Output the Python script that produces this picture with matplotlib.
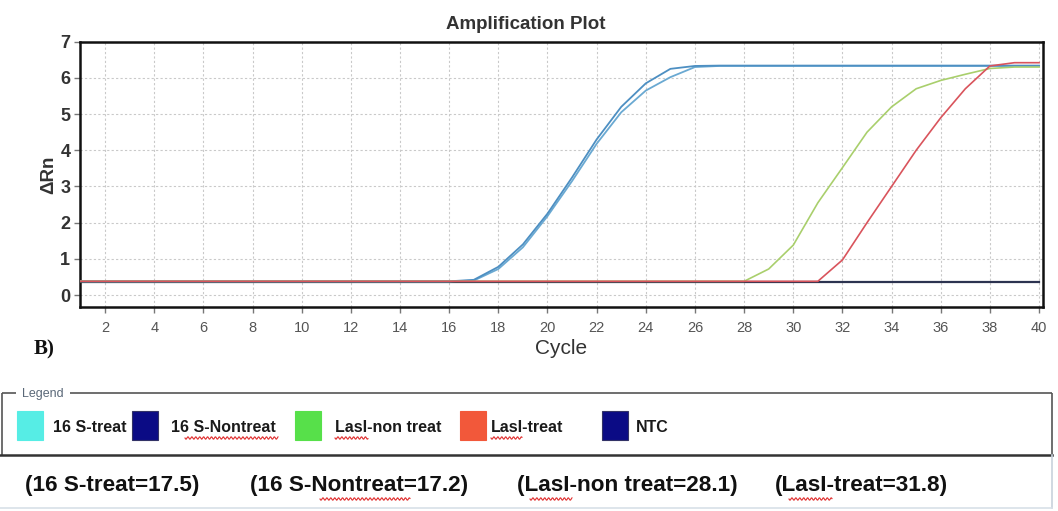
import numpy as np
import matplotlib
matplotlib.use("Agg")
import matplotlib.pyplot as plt
from matplotlib.patches import Rectangle

plt.rcParams['font.family'] = ['Liberation Sans', 'DejaVu Sans']

# ---- data -------------------------------------------------------------
cycles = list(range(1, 41))

s16_treat = [0.38, 0.38, 0.38, 0.38, 0.38, 0.38, 0.38, 0.38, 0.38, 0.38,
             0.38, 0.38, 0.38, 0.38, 0.38, 0.38, 0.40, 0.72, 1.32, 2.18,
             3.15, 4.18, 5.05, 5.65, 6.02, 6.30, 6.33, 6.33, 6.33, 6.33,
             6.33, 6.33, 6.33, 6.33, 6.33, 6.33, 6.33, 6.33, 6.33, 6.33]

s16_nontreat = [0.38, 0.38, 0.38, 0.38, 0.38, 0.38, 0.38, 0.38, 0.38, 0.38,
                0.38, 0.38, 0.38, 0.38, 0.38, 0.38, 0.42, 0.78, 1.40, 2.25,
                3.25, 4.30, 5.20, 5.85, 6.25, 6.33, 6.34, 6.34, 6.34, 6.34,
                6.34, 6.34, 6.34, 6.34, 6.34, 6.34, 6.34, 6.34, 6.34, 6.34]

lasi_nontreat = [0.38, 0.38, 0.38, 0.38, 0.38, 0.38, 0.38, 0.38, 0.38, 0.38,
                 0.38, 0.38, 0.38, 0.38, 0.38, 0.38, 0.38, 0.38, 0.38, 0.38,
                 0.38, 0.38, 0.38, 0.38, 0.38, 0.38, 0.38, 0.38, 0.72, 1.38,
                 2.55, 3.52, 4.50, 5.20, 5.70, 5.93, 6.10, 6.26, 6.30, 6.30]

lasi_treat = [0.38, 0.38, 0.38, 0.38, 0.38, 0.38, 0.38, 0.38, 0.38, 0.38,
              0.38, 0.38, 0.38, 0.38, 0.38, 0.38, 0.38, 0.38, 0.38, 0.38,
              0.38, 0.38, 0.38, 0.38, 0.38, 0.38, 0.38, 0.38, 0.38, 0.38,
              0.38, 0.97, 2.00, 3.00, 4.00, 4.90, 5.70, 6.33, 6.42, 6.42]

ntc = [0.37, 0.37, 0.37, 0.37, 0.37, 0.37, 0.37, 0.37, 0.37, 0.37,
       0.37, 0.37, 0.37, 0.37, 0.37, 0.37, 0.37, 0.37, 0.37, 0.37,
       0.37, 0.37, 0.37, 0.37, 0.37, 0.37, 0.37, 0.37, 0.37, 0.37,
       0.37, 0.37, 0.37, 0.37, 0.37, 0.37, 0.37, 0.37, 0.37, 0.37]

legend_labels = ["16 S-treat", "16 S-Nontreat", "LasI-non treat", "LasI-treat", "NTC"]
ct_labels = ["16 S-treat", "16 S-Nontreat", "LasI-non treat", "LasI-treat"]
ct_values = [17.5, 17.2, 28.1, 31.8]

x_ticks = list(range(2, 41, 2))
y_ticks = list(range(0, 8))

# ---- figure -----------------------------------------------------------
W, H = 1058, 511
fig = plt.figure(figsize=(W / 100, H / 100), dpi=100, facecolor="white")

# pixel-space overlay for the annotation panel
ov = fig.add_axes([0, 0, 1, 1])
ov.set_xlim(0, W)
ov.set_ylim(H, 0)
ov.axis("off")

ax = fig.add_axes([80 / W, 1 - 307 / H, (1043 - 80) / W, (307 - 41.7) / H])
ax.set_xlim(0.98, 40.16)
ax.set_ylim(-0.33, 7.0)

ax.plot(cycles, ntc, color="#2c3350", lw=1.6, zorder=2)
ax.plot(cycles, s16_treat, color="#6aa9d2", lw=1.3, zorder=3)
ax.plot(cycles, s16_nontreat, color="#4d8fc2", lw=1.3, zorder=3)
ax.plot(cycles, lasi_nontreat, color="#a9cf6c", lw=1.2, zorder=4)
ax.plot(cycles, lasi_treat, color="#d9545c", lw=1.2, zorder=5)

ax.set_xticks(x_ticks)
ax.set_yticks(y_ticks)
ax.grid(True, color="#c9c9c9", linestyle=(0, (2, 2)), linewidth=0.8)
ax.set_axisbelow(True)
for s in ax.spines.values():
    s.set_linewidth(1.8)
    s.set_color("#111111")
ax.tick_params(axis="x", length=4, width=1, color="#777777", labelsize=10.5,
               labelcolor="#555555", pad=6)
ax.tick_params(axis="y", length=4, width=1, color="#777777", labelsize=13,
               labelcolor="#333333", pad=3)
for lab in ax.get_yticklabels():
    lab.set_fontweight("bold")

ax.set_title("Amplification Plot", fontsize=13.5, fontweight="bold",
             color="#333333", x=(526 - 80) / (1043 - 80), pad=9)
ax.set_xlabel("Cycle", fontsize=15, color="#333333", labelpad=3)
ax.set_ylabel("\u0394Rn", fontsize=13.5, fontweight="bold", color="#333333",
              labelpad=2)

ov.text(44, 349, "B)", fontsize=15, fontweight="bold", family="Liberation Serif",
        ha="center", va="center", color="#111111")

# ---- legend panel ------------------------------------------------------
frame = dict(color="#555555", lw=1.2, solid_capstyle="butt")
ov.plot([70, 1052], [393, 393], **frame)
ov.plot([2, 16], [393, 393], **frame)
ov.plot([2, 2], [393, 455], **frame)
ov.plot([1052, 1052], [393, 455], **frame)
ov.plot([0, 1052], [455, 455], color="#333333", lw=1.8)
ov.plot([1052, 1052], [455, 508], color="#c8d2dc", lw=1.2)
ov.plot([0, 1052], [508, 508], color="#d8e0e8", lw=1.2)
ov.text(22, 394, "Legend", fontsize=9, color="#5a6878", ha="left", va="center")

patch_colors = ["#56ede5", "#0b0b85", "#57e04a", "#f2583a", "#0b0b85"]
patch_x = [17, 132, 295, 460, 602]
label_x = [53, 171, 335, 491, 636]
for c, px, lx, lab in zip(patch_colors, patch_x, label_x, legend_labels):
    ov.add_patch(Rectangle((px, 411), 26, 29, facecolor=c,
                           edgecolor="#333366" if c == "#0b0b85" else c, lw=0.8))
    ov.text(lx, 427, lab, fontsize=11.5, fontweight="bold", color="#1a1a1a",
            ha="left", va="center")

ct_x = [25, 250, 517, 775]
for lx, lab, val in zip(ct_x, ct_labels, ct_values):
    ov.text(lx, 486, f"({lab}={val})", fontsize=16.2, fontweight="bold",
            color="#111111", ha="left", va="center")


def squiggle(x0, x1, y):
    xs = np.linspace(x0, x1, int((x1 - x0) * 2))
    ov.plot(xs, y + 1.2 * np.sin((xs - x0) * 1.6), color="#e03030", lw=0.8)


for x0, x1, y in [(185, 278, 438), (335, 368, 438), (491, 522, 438),
                  (320, 410, 499), (530, 572, 499), (789, 832, 499)]:
    squiggle(x0, x1, y)

fig.savefig("out.png", dpi=100, facecolor="white")
